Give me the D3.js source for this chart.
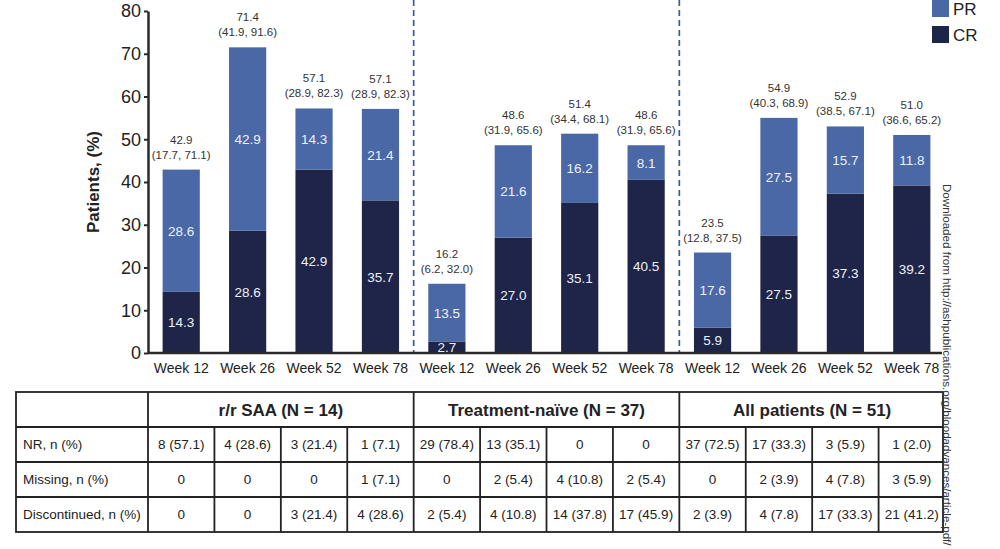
<!DOCTYPE html>
<html>
<head>
<meta charset="utf-8">
<script src="https://cdn.jsdelivr.net/npm/d3@7"></script>
<style>
  body { margin: 0; background: #fff; }
  svg { font-family: "Liberation Sans", Arial, sans-serif; }
</style>
</head>
<body>
<div id="chart"></div>
<script>
var width = 1000,
    height = 549;

// chart data
var weeks = ["Week 12", "Week 26", "Week 52", "Week 78"];
var groups = ["r/r SAA (N = 14)", "Treatment-naïve (N = 37)", "All patients (N = 51)"];
var crValues = [14.3, 28.6, 42.9, 35.7, 2.7, 27.0, 35.1, 40.5, 5.9, 27.5, 37.3, 39.2];
var prValues = [28.6, 42.9, 14.3, 21.4, 13.5, 21.6, 16.2, 8.1, 17.6, 27.5, 15.7, 11.8];
var totals = ["42.9", "71.4", "57.1", "57.1", "16.2", "48.6", "51.4", "48.6", "23.5", "54.9", "52.9", "51.0"];
var cis = ["(17.7, 71.1)", "(41.9, 91.6)", "(28.9, 82.3)", "(28.9, 82.3)",
           "(6.2, 32.0)", "(31.9, 65.6)", "(34.4, 68.1)", "(31.9, 65.6)",
           "(12.8, 37.5)", "(40.3, 68.9)", "(38.5, 67.1)", "(36.6, 65.2)"];
var yTicks = [0, 10, 20, 30, 40, 50, 60, 70, 80];

// table data
var rowLabels = ["NR, n (%)", "Missing, n (%)", "Discontinued, n (%)"];
var nrRow = ["8 (57.1)", "4 (28.6)", "3 (21.4)", "1 (7.1)", "29 (78.4)", "13 (35.1)", "0", "0", "37 (72.5)", "17 (33.3)", "3 (5.9)", "1 (2.0)"];
var missingRow = ["0", "0", "0", "1 (7.1)", "0", "2 (5.4)", "4 (10.8)", "2 (5.4)", "0", "2 (3.9)", "4 (7.8)", "3 (5.9)"];
var discRow = ["0", "0", "3 (21.4)", "4 (28.6)", "2 (5.4)", "4 (10.8)", "14 (37.8)", "17 (45.9)", "2 (3.9)", "4 (7.8)", "17 (33.3)", "21 (41.2)"];

var PR_COLOR = "#4a68a6",
    CR_COLOR = "#1f2548";

var svg = d3.select("#chart").append("svg")
    .attr("width", width)
    .attr("height", height);

var slots = [];
groups.forEach(function(g, gi) {
  weeks.forEach(function(w, wi) { slots.push(gi * 4 + wi); });
});

var data = slots.map(function(i) {
  return { i: i, week: weeks[i % 4], cr: crValues[i], pr: prValues[i], total: totals[i], ci: cis[i] };
});

var x = d3.scaleBand().domain(slots).range([148, 945]).paddingInner(0.44).paddingOuter(0.22);
var step = x.step();
var left = 148;
var y = d3.scaleLinear().domain([0, 80]).range([353, 11]);

// y axis
var yAxis = svg.append("g")
    .attr("transform", "translate(" + left + ",0)")
    .call(d3.axisLeft(y).tickValues(yTicks).tickSize(4).tickSizeOuter(0).tickPadding(3));
yAxis.select(".domain").attr("stroke", "#2a2a2a").attr("stroke-width", 2.5);
yAxis.selectAll(".tick line").attr("stroke", "#2a2a2a").attr("stroke-width", 2);
yAxis.selectAll(".tick text").attr("font-size", 18).attr("fill", "#222")
    .attr("font-family", "Liberation Sans, Arial, sans-serif");

svg.append("text")
    .attr("transform", "translate(99," + 182 + ") rotate(-90)")
    .attr("text-anchor", "middle")
    .attr("font-size", 17)
    .attr("font-weight", "bold")
    .attr("fill", "#222")
    .text("Patients, (%)");

// dashed separators
[4, 8].forEach(function(k) {
  svg.append("line")
      .attr("x1", left + k * step).attr("x2", left + k * step)
      .attr("y1", 0).attr("y2", y(0))
      .attr("stroke", "#3a58a0")
      .attr("stroke-width", 1.7)
      .attr("stroke-dasharray", "6,4");
});

// bars
var bars = svg.append("g");
bars.selectAll("rect.cr").data(data).enter().append("rect")
    .attr("x", function(d) { return x(d.i); })
    .attr("width", x.bandwidth())
    .attr("y", function(d) { return y(d.cr); })
    .attr("height", function(d) { return y(0) - y(d.cr); })
    .attr("fill", CR_COLOR);
bars.selectAll("rect.pr").data(data).enter().append("rect")
    .attr("x", function(d) { return x(d.i); })
    .attr("width", x.bandwidth())
    .attr("y", function(d) { return y(d.cr + d.pr); })
    .attr("height", function(d) { return y(d.cr) - y(d.cr + d.pr); })
    .attr("fill", PR_COLOR);

// x axis line
svg.append("line")
    .attr("x1", left).attr("x2", 942)
    .attr("y1", y(0)).attr("y2", y(0))
    .attr("stroke", "#2a2a2a").attr("stroke-width", 2.5);

// x labels
svg.selectAll("text.xl").data(data).enter().append("text")
    .attr("x", function(d) { return x(d.i) + x.bandwidth() / 2; })
    .attr("y", 373)
    .attr("text-anchor", "middle")
    .attr("font-size", 14)
    .attr("fill", "#222")
    .text(function(d) { return d.week; });

// in-bar labels
svg.selectAll("text.crl").data(data).enter().append("text")
    .attr("x", function(d) { return x(d.i) + x.bandwidth() / 2; })
    .attr("y", function(d) { return (y(0) + y(d.cr)) / 2 + 5; })
    .attr("text-anchor", "middle")
    .attr("font-size", 13.5)
    .attr("fill", "#eef1f8")
    .text(function(d) { return d.cr.toFixed(1); });
svg.selectAll("text.prl").data(data).enter().append("text")
    .attr("x", function(d) { return x(d.i) + x.bandwidth() / 2; })
    .attr("y", function(d) { return (y(d.cr) + y(d.cr + d.pr)) / 2 + 5; })
    .attr("text-anchor", "middle")
    .attr("font-size", 13.5)
    .attr("fill", "#eef1f8")
    .text(function(d) { return d.pr.toFixed(1); });

// totals and CIs above bars
svg.selectAll("text.tot").data(data).enter().append("text")
    .attr("x", function(d) { return x(d.i) + x.bandwidth() / 2; })
    .attr("y", function(d) { return y(d.cr + d.pr) - 26; })
    .attr("text-anchor", "middle")
    .attr("font-size", 11.5)
    .attr("fill", "#333")
    .text(function(d) { return d.total; });
svg.selectAll("text.ci").data(data).enter().append("text")
    .attr("x", function(d) { return x(d.i) + x.bandwidth() / 2; })
    .attr("y", function(d) { return y(d.cr + d.pr) - 11; })
    .attr("text-anchor", "middle")
    .attr("font-size", 11.5)
    .attr("fill", "#333")
    .text(function(d) { return d.ci; });

// legend
var legend = svg.append("g").attr("transform", "translate(932,0)");
[["PR", PR_COLOR], ["CR", CR_COLOR]].forEach(function(l, k) {
  legend.append("rect").attr("x", 0).attr("y", k * 26).attr("width", 17).attr("height", 17).attr("fill", l[1]);
  legend.append("text").attr("x", 21).attr("y", 15 + k * 26).attr("font-size", 17).attr("fill", "#222").text(l[0]);
});

// table
var tbl = svg.append("g");
var rowsY = [392, 427, 462, 497, 532];
var tLeft = 16, tRight = left + 12 * step - 2;
var lineStyle = function(sel) { return sel.attr("stroke", "#222").attr("stroke-width", 1.8); };

tbl.append("rect").attr("x", tLeft).attr("y", rowsY[0])
    .attr("width", tRight - tLeft).attr("height", rowsY[4] - rowsY[0])
    .attr("fill", "none").call(lineStyle);
rowsY.slice(1, 4).forEach(function(ry) {
  tbl.append("line").attr("x1", tLeft).attr("x2", tRight).attr("y1", ry).attr("y2", ry).call(lineStyle);
});
// column lines
d3.range(0, 12).forEach(function(k) {
  var cx = left + k * step;
  var top = (k % 4 === 0) ? rowsY[0] : rowsY[1];
  tbl.append("line").attr("x1", cx).attr("x2", cx).attr("y1", top).attr("y2", rowsY[4]).call(lineStyle);
});

groups.forEach(function(g, gi) {
  tbl.append("text")
      .attr("x", left + (gi * 4 + 2) * step)
      .attr("y", rowsY[0] + 24)
      .attr("text-anchor", "middle")
      .attr("font-size", 17)
      .attr("font-weight", "bold")
      .attr("fill", "#222")
      .text(g);
});

[nrRow, missingRow, discRow].forEach(function(row, ri) {
  var cy = rowsY[ri + 1] + 22;
  tbl.append("text").attr("x", 23).attr("y", cy)
      .attr("font-size", 13.5).attr("fill", "#222").text(rowLabels[ri]);
  row.forEach(function(v, k) {
    tbl.append("text")
        .attr("x", x(k) + x.bandwidth() / 2)
        .attr("y", cy)
        .attr("text-anchor", "middle")
        .attr("font-size", 13.5)
        .attr("fill", "#222")
        .text(v);
  });
});

// watermark
svg.append("text")
    .attr("transform", "translate(943,184) rotate(90)")
    .attr("font-size", 11.6)
    .attr("fill", "#333")
    .text("Downloaded from http://ashpublications.org/bloodadvances/article-pdf/");
</script>
</body>
</html>
